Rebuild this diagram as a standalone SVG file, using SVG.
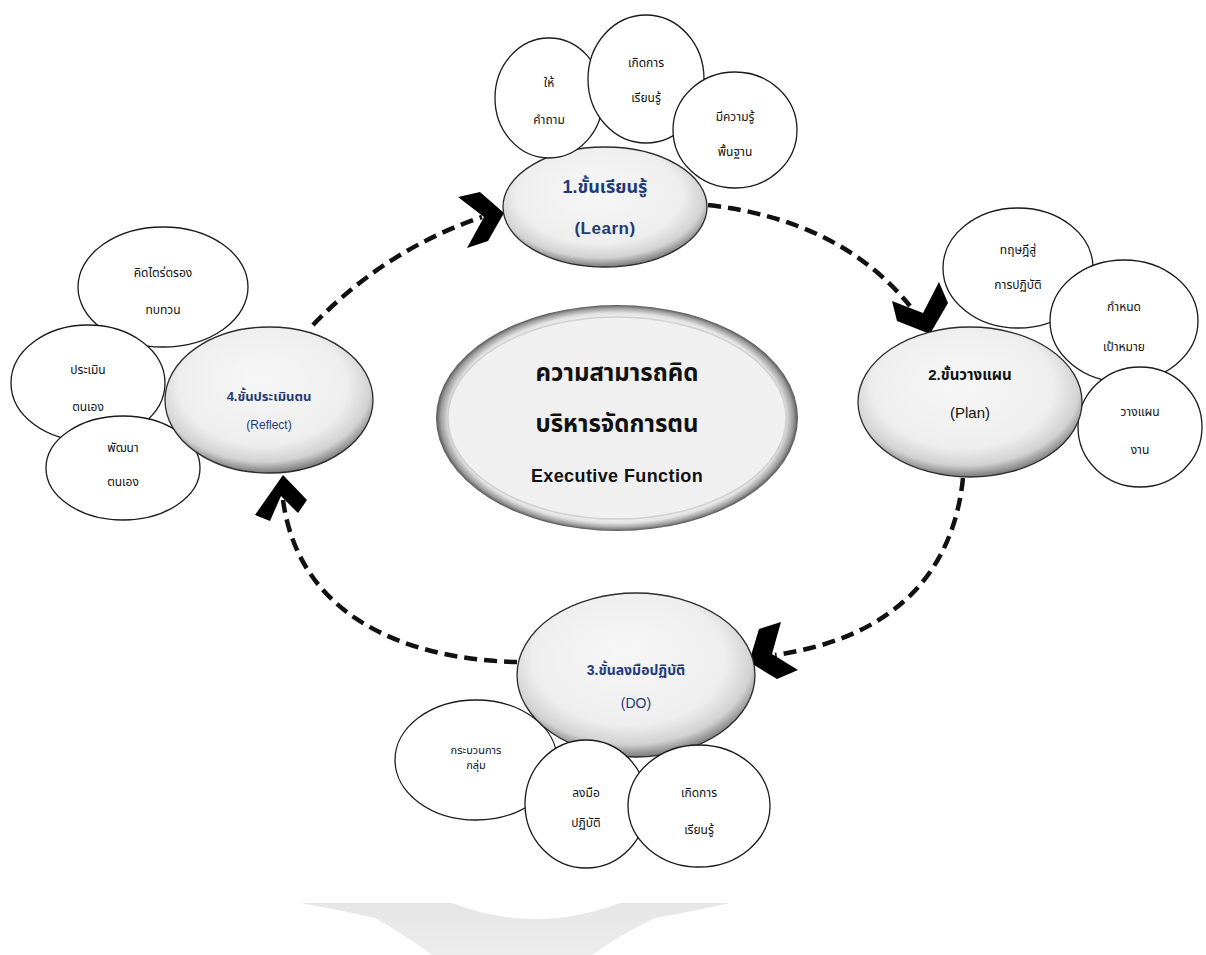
<svg xmlns="http://www.w3.org/2000/svg" width="1206" height="955" viewBox="0 0 1206 955">
<defs>
<radialGradient id="stepFill" cx="48%" cy="42%" r="58%" fx="45%" fy="35%">
<stop offset="0" stop-color="#f7f7f7"/>
<stop offset="0.7" stop-color="#eeeeee"/>
<stop offset="0.88" stop-color="#d2d2d2"/>
<stop offset="1" stop-color="#7a7a7a"/>
</radialGradient>
<radialGradient id="ringFill" cx="50%" cy="50%" r="50%">
<stop offset="0.86" stop-color="#fbfbfb"/>
<stop offset="0.93" stop-color="#e2e2e2"/>
<stop offset="0.975" stop-color="#9a9a9a"/>
<stop offset="1" stop-color="#555555"/>
</radialGradient>
<linearGradient id="wm" x1="0" y1="0" x2="0" y2="1">
<stop offset="0" stop-color="#e6e6e6"/>
<stop offset="1" stop-color="#ececec"/>
</linearGradient>
</defs>
<style>
.step{fill:url(#stepFill);stroke:#2b2b2b;stroke-width:1.3}
.bub{fill:#ffffff;stroke:#1a1a1a;stroke-width:1.3}
.t{font-family:"Liberation Sans","Noto Sans Thai","Noto Sans",sans-serif;text-anchor:middle;fill:#111}
.s{font-size:12px}
.blue{fill:#1f3a78;font-weight:bold}
.reg{font-weight:normal}
.main{font-size:24px;font-weight:bold}
.dash{fill:none;stroke:#111;stroke-width:4.5;stroke-dasharray:13 7}
.head{fill:#000}
</style>
<rect width="1206" height="955" fill="#ffffff"/>

<!-- watermark shape -->
<path d="M300,903 L452,903 Q535,935 620,903 L730,903 Q690,912 655,918 Q620,935 592,955 L432,955 Q405,935 375,918 Q340,910 300,903 Z" fill="url(#wm)"/>

<!-- center -->
<g id="center">
<ellipse cx="617" cy="418" rx="181" ry="113" fill="url(#ringFill)"/>
<ellipse cx="617" cy="418" rx="169" ry="101" fill="#f0f0f0" stroke="#d0d0d0" stroke-width="1.5"/>
<text class="t main" x="617" y="381">ความสามารถคิด</text>
<text class="t main" x="617" y="432">บริหารจัดการตน</text>
<text class="t" x="617" y="482" font-size="18" font-weight="bold" letter-spacing="0.4">Executive  Function</text>
</g>

<g id="connectors">
<path class="dash" d="M313,325 Q385,250 482,217"/>
<polygon class="head" points="458,197 480,192 504,213 488,241 467,248 484,217"/>
<path class="dash" d="M708,205 Q840,220 910,306"/>
<polygon class="head" points="892,301 923,313 939,282 948,303 930,334 897,321"/>
<path class="dash" d="M963,478 C952,585 880,640 775,655"/>
<polygon class="head" points="759,629 749,662 777,679 798,670 772,654 781,622"/>
<path class="dash" d="M517,662 C420,660 300,625 283,500"/>
<polygon class="head" points="283,475 307,500 298,513 281,496 270,521 255,515"/>
</g>

<!-- Learn -->
<g id="learn">
<ellipse class="step" cx="605" cy="207" rx="102" ry="60"/>
<text class="t blue" x="605" y="193" font-size="18">1.ขั้นเรียนรู้</text>
<text class="t blue" x="605" y="234" font-size="17" letter-spacing="0.5">(Learn)</text>
</g>
<g id="learn-q">
<ellipse class="bub" cx="549" cy="98" rx="54" ry="60"/>
<text class="t s" x="549" y="87">ให้</text>
<text class="t s" x="549" y="124">คำถาม</text>
</g>
<g id="learn-l">
<ellipse class="bub" cx="646" cy="79" rx="58" ry="64"/>
<text class="t s" x="646" y="67">เกิดการ</text>
<text class="t s" x="646" y="102">เรียนรู้</text>
</g>
<g id="learn-k">
<ellipse class="bub" cx="735" cy="130" rx="62" ry="58"/>
<text class="t s" x="735" y="121">มีความรู้</text>
<text class="t s" x="735" y="156">พื้นฐาน</text>
</g>

<!-- Plan -->
<g id="plan-t">
<ellipse class="bub" cx="1018" cy="268" rx="75" ry="60"/>
<text class="t s" x="1018" y="254">ทฤษฎีสู่</text>
<text class="t s" x="1018" y="289">การปฏิบัติ</text>
</g>
<g id="plan-g">
<ellipse class="bub" cx="1124" cy="321" rx="74" ry="61"/>
<text class="t s" x="1124" y="311">กำหนด</text>
<text class="t s" x="1124" y="351">เป้าหมาย</text>
</g>
<g id="plan-w">
<ellipse class="bub" cx="1140" cy="427" rx="62" ry="60"/>
<text class="t s" x="1140" y="416">วางแผน</text>
<text class="t s" x="1140" y="454">งาน</text>
</g>
<g id="plan">
<ellipse class="step" cx="970" cy="402" rx="112" ry="75"/>
<text class="t" x="970" y="380" font-size="15" font-weight="bold">2.ขั้นวางแผน</text>
<text class="t" x="970" y="418" font-size="15">(Plan)</text>
</g>

<!-- DO -->
<g id="do-g">
<ellipse class="bub" cx="476" cy="760" rx="81" ry="60"/>
<text class="t" x="476" y="754" font-size="11">กระบวนการ</text>
<text class="t" x="476" y="769" font-size="11">กลุ่ม</text>
</g>
<g id="do">
<ellipse class="step" cx="636" cy="675" rx="119" ry="82"/>
<text class="t blue" x="636" y="675" font-size="14">3.ขั้นลงมือปฏิบัติ</text>
<text class="t blue reg" x="636" y="708" font-size="14">(DO)</text>
</g>
<g id="do-p">
<ellipse class="bub" cx="586" cy="804" rx="61" ry="64"/>
<text class="t s" x="586" y="797">ลงมือ</text>
<text class="t s" x="586" y="827">ปฏิบัติ</text>
</g>
<g id="do-l">
<ellipse class="bub" cx="699" cy="806" rx="71" ry="61"/>
<text class="t s" x="699" y="797">เกิดการ</text>
<text class="t s" x="699" y="834">เรียนรู้</text>
</g>

<!-- Reflect -->
<g id="ref-t">
<ellipse class="bub" cx="163" cy="287" rx="85" ry="60"/>
<text class="t s" x="163" y="277">คิดไตร่ตรอง</text>
<text class="t s" x="163" y="314">ทบทวน</text>
</g>
<g id="ref-e">
<ellipse class="bub" cx="88" cy="383" rx="77" ry="58"/>
<text class="t s" x="88" y="374">ประเมิน</text>
<text class="t s" x="88" y="411">ตนเอง</text>
</g>
<g id="ref-d">
<ellipse class="bub" cx="123" cy="468" rx="77" ry="52"/>
<text class="t s" x="123" y="452">พัฒนา</text>
<text class="t s" x="123" y="486">ตนเอง</text>
</g>
<g id="reflect">
<ellipse class="step" cx="269" cy="400" rx="104" ry="73"/>
<text class="t blue" x="269" y="401" font-size="13">4.ขั้นประเมินตน</text>
<text class="t blue reg" x="269" y="429" font-size="12">(Reflect)</text>
</g>
</svg>
